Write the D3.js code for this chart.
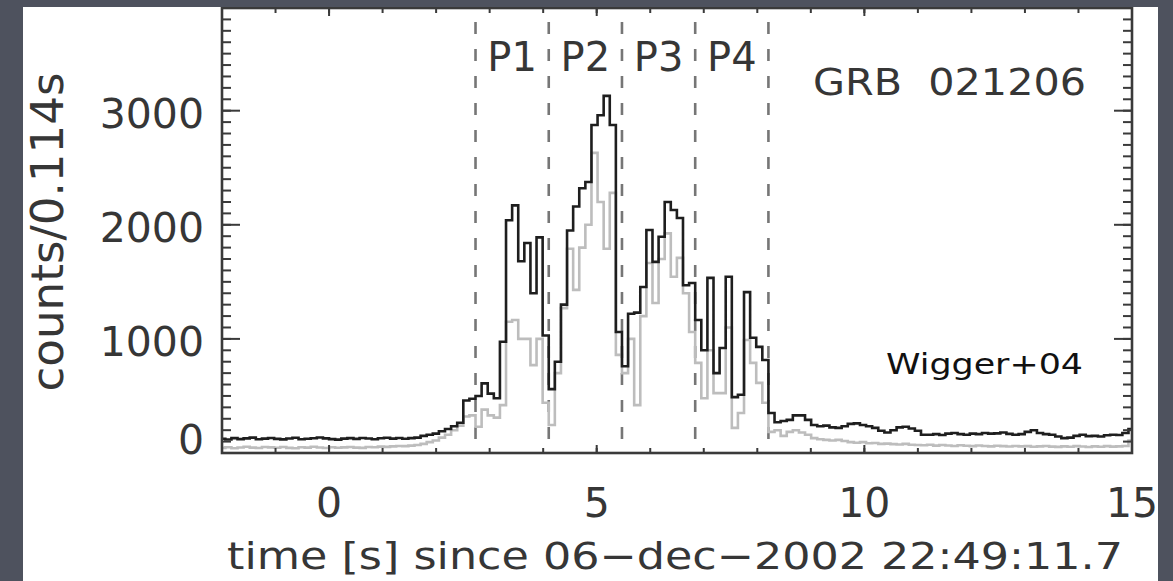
<!DOCTYPE html>
<html>
<head>
<meta charset="utf-8">
<script src="https://cdn.jsdelivr.net/npm/d3@7"></script>
<style>
  html, body { margin: 0; padding: 0; background: #4e525e; }
  svg { display: block; }
  text { font-family: "DejaVu Sans", sans-serif; }
</style>
</head>
<body>
<svg id="chart" width="1173" height="581"></svg>
<script>
// Light curve binning (0.114 s bins)
const binStart = -2.052;
const binWidth = 0.114;

// Counts per bin, full band
const totalCounts = [
  125,118,130,122,128,135,120,126,131,124,119,127,133,121,125,129,136,128,122,117,
  126,130,124,132,127,121,129,134,126,131,
  125,130,135,150,160,170,190,210,235,265,
  460,475,500,610,520,480,975,2040,2170,1680,1840,1400,1890,1030,
  560,800,1300,
  1950,2160,2320,2375,2875,2960,3130,2875,
  1060,760,1220,1230,1455,1955,1675,1895,2200,2130,2060,1470,1490,1165,900,1535,700,920,1545,490,510,1410,1010,930,815,
  350,270,280,290,330,330,290,245,235,240,225,220,235,255,260,245,235,220,195,180,
  200,225,230,215,195,160,160,165,158,170,175,165,160,170,165,175,170,172,180,168,
  160,165,185,200,175,165,160,145,130,135,150,160,148,150,145,155,160,158,175,210
];

// Counts per bin, soft band
const softCounts = [
  45,50,42,48,55,47,44,52,49,46,53,45,41,50,47,55,48,44,51,46,
  49,53,47,45,52,50,56,54,58,62,
  60,65,70,80,95,110,135,160,200,240,
  320,330,230,380,330,310,420,1150,1165,1000,1000,770,1000,440,
  245,700,1270,
  1790,1430,1800,2000,2630,2200,1790,2280,
  860,700,1000,420,1200,1665,1315,1700,1925,1545,1710,1400,1060,790,480,900,525,525,1100,220,350,990,790,615,440,
  185,200,150,185,200,180,160,130,120,115,110,115,105,95,90,95,85,88,80,82,
  78,75,80,72,70,68,72,65,70,66,62,68,64,60,66,62,58,64,60,57,
  62,58,60,55,58,62,56,54,58,55,60,57,53,58,55,60,56,58,62,110
];

// Pulse boundaries and names
const pulseEdges = [2.736, 4.104, 5.472, 6.840, 8.208];
const pulseLabels = ["P1", "P2", "P3", "P4"];

// Axis ticks
const xMajorTicks = [0, 5, 10, 15];
const xMinorTicks = d3.range(-2, 16, 1);
const yMajorTicks = [0, 1000, 2000, 3000];
const yMinorTicks = d3.range(0, 3901, 100);

const svg = d3.select("#chart");
const W = 1173, H = 581;
const defs = svg.append("defs");

// dark slide background and white figure panel
svg.append("rect").attr("width", W).attr("height", H).attr("fill", "#4e525e");
const panel = { x: 23, y: 7, w: 1135, h: 574 };
defs.append("clipPath").attr("id", "panelClip")
  .append("rect").attr("x", panel.x).attr("y", panel.y).attr("width", panel.w).attr("height", panel.h);
const root = svg.append("g").attr("clip-path", "url(#panelClip)");
root.append("rect").attr("x", panel.x).attr("y", panel.y).attr("width", panel.w).attr("height", panel.h).attr("fill", "#ffffff");

const plot = { left: 222, right: 1132, top: 8, bottom: 453 };
const x = d3.scaleLinear().domain([-2, 15]).range([plot.left, plot.right]);
const y = d3.scaleLinear().domain([0, 3900]).range([plot.bottom, plot.top]);

defs.append("clipPath").attr("id", "plotClip")
  .append("rect").attr("x", plot.left).attr("y", plot.top)
  .attr("width", plot.right - plot.left).attr("height", plot.bottom - plot.top);

const textColor = "#363636";
const axisColor = "#3a3a3a";

// pulse boundaries (dashed)
const dashG = root.append("g").attr("clip-path", "url(#plotClip)");
dashG.selectAll("line").data(pulseEdges).enter().append("line")
  .attr("x1", d => x(d)).attr("x2", d => x(d))
  .attr("y1", 22).attr("y2", plot.bottom)
  .attr("stroke", "#767676").attr("stroke-width", 2.6)
  .attr("stroke-dasharray", "12,15");

// pulse names
root.selectAll("text.pulse").data(pulseLabels).enter().append("text")
  .attr("class", "pulse")
  .attr("x", (d, i) => (x(pulseEdges[i]) + x(pulseEdges[i + 1])) / 2)
  .attr("y", 71)
  .attr("text-anchor", "middle")
  .attr("font-size", 40)
  .attr("fill", textColor)
  .text(d => d);

// step histograms
function stepPoints(values) {
  const pts = values.map((v, i) => [binStart + i * binWidth, v]);
  pts.push([binStart + values.length * binWidth, values[values.length - 1]]);
  return pts;
}
const stepLine = d3.line().x(d => x(d[0])).y(d => y(d[1])).curve(d3.curveStepAfter);
const dataG = root.append("g").attr("clip-path", "url(#plotClip)");
dataG.append("path").datum(stepPoints(softCounts))
  .attr("d", stepLine).attr("fill", "none")
  .attr("stroke", "#bdbdbd").attr("stroke-width", 2.6);
dataG.append("path").datum(stepPoints(totalCounts))
  .attr("d", stepLine).attr("fill", "none")
  .attr("stroke", "#1e1e1e").attr("stroke-width", 2.6);

// inward tick marks on all four sides
const tickG = root.append("g").attr("stroke", axisColor).attr("stroke-width", 2);
function xTicks(values, len) {
  tickG.selectAll(null).data(values).enter().append("line")
    .attr("x1", d => x(d)).attr("x2", d => x(d))
    .attr("y1", plot.bottom).attr("y2", plot.bottom - len);
  tickG.selectAll(null).data(values).enter().append("line")
    .attr("x1", d => x(d)).attr("x2", d => x(d))
    .attr("y1", plot.top).attr("y2", plot.top + len);
}
function yTicks(values, len) {
  tickG.selectAll(null).data(values).enter().append("line")
    .attr("y1", d => y(d)).attr("y2", d => y(d))
    .attr("x1", plot.left).attr("x2", plot.left + len);
  tickG.selectAll(null).data(values).enter().append("line")
    .attr("y1", d => y(d)).attr("y2", d => y(d))
    .attr("x1", plot.right).attr("x2", plot.right - len);
}
xTicks(xMinorTicks, 5);
xTicks(xMajorTicks, 8);
yTicks(yMinorTicks, 9);
yTicks(yMajorTicks, 18);

// tick labels
root.selectAll("text.xlab").data(xMajorTicks).enter().append("text")
  .attr("class", "xlab")
  .attr("x", d => x(d)).attr("y", 517)
  .attr("text-anchor", "middle").attr("font-size", 41).attr("fill", textColor)
  .text(d3.format("d"));
root.selectAll("text.ylab").data(yMajorTicks).enter().append("text")
  .attr("class", "ylab")
  .attr("x", plot.left - 18).attr("y", d => y(d))
  .attr("dy", d => d === 0 ? "0.02em" : "0.42em")
  .attr("text-anchor", "end").attr("font-size", 41).attr("fill", textColor)
  .text(d3.format("d"));

// frame
root.append("rect")
  .attr("x", plot.left).attr("y", plot.top)
  .attr("width", plot.right - plot.left).attr("height", plot.bottom - plot.top)
  .attr("fill", "none").attr("stroke", axisColor).attr("stroke-width", 2.6);

// annotations
root.append("text")
  .attr("x", 813).attr("y", 95)
  .attr("font-size", 38).attr("fill", textColor)
  .attr("textLength", 273).attr("lengthAdjust", "spacingAndGlyphs")
  .style("white-space", "pre")
  .text("GRB  021206");

root.append("text")
  .attr("x", 886).attr("y", 374)
  .attr("font-size", 29).attr("fill", "#111111")
  .attr("textLength", 197).attr("lengthAdjust", "spacingAndGlyphs")
  .text("Wigger+04");

// axis titles
root.append("text")
  .attr("transform", "translate(63,232) rotate(-90)")
  .attr("text-anchor", "middle")
  .attr("font-size", 44).attr("fill", textColor)
  .attr("textLength", 319).attr("lengthAdjust", "spacingAndGlyphs")
  .text("counts/0.114s");

root.append("text")
  .attr("x", 227).attr("y", 569)
  .attr("font-size", 38).attr("fill", textColor)
  .attr("textLength", 896).attr("lengthAdjust", "spacingAndGlyphs")
  .style("white-space", "pre")
  .text("time [s] since 06\u2212dec\u22122002 22:49:11.7");
</script>
</body>
</html>
